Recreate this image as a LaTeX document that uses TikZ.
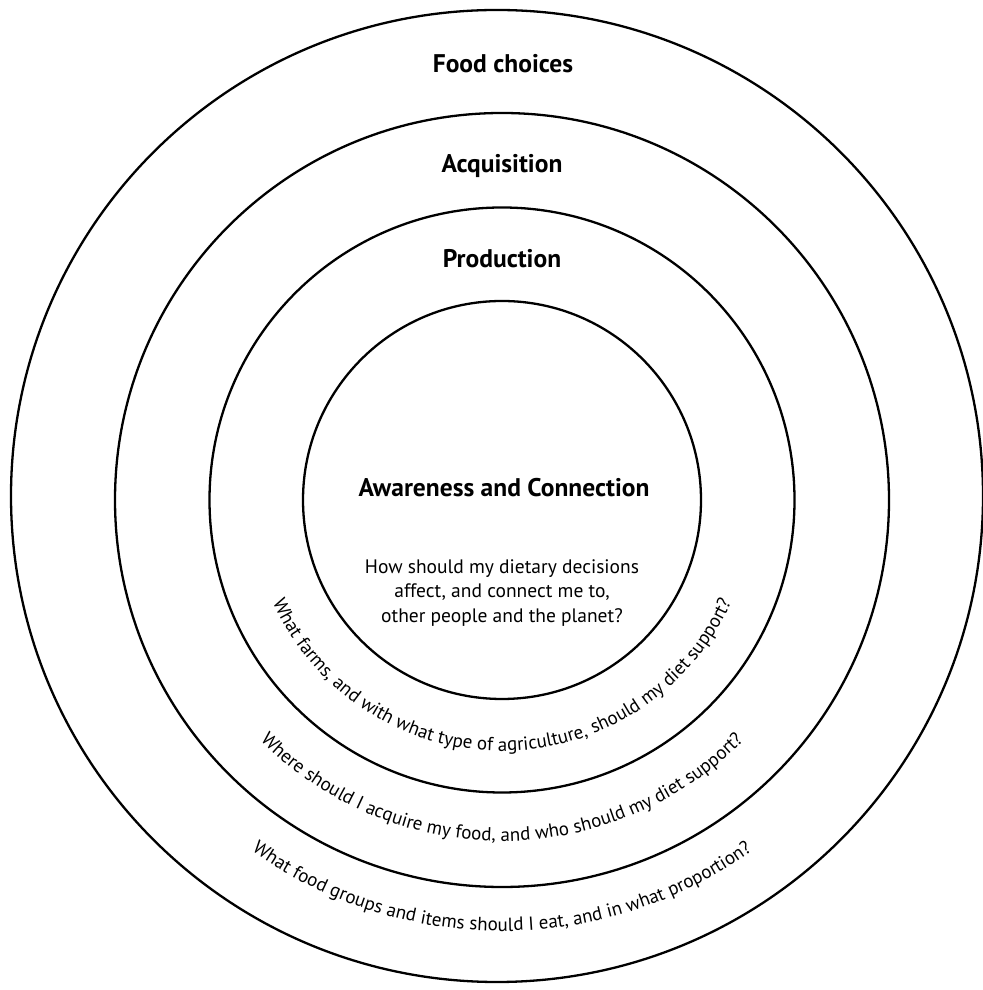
\documentclass[tikz,border=0pt]{standalone}
\usepackage{fontspec}
\setmainfont{PT Sans}
\usetikzlibrary{decorations.text}
\begin{document}
\begin{tikzpicture}[x=1pt,y=1pt,
  ring/.style={circle, draw=black, line width=2.3pt, inner sep=0pt, minimum size=#1},
  heading/.style={font=\fontsize{25.5}{30}\selectfont\bfseries, anchor=base, inner sep=0pt},
  body/.style={font=\fontsize{19.5}{24.5}\selectfont, align=center, inner sep=0pt},
  ringtext/.style={decorate, decoration={text along path, text align=center,
      text={|\fontsize{19}{23}\selectfont|#1}}}
]
\useasboundingbox (0,0) rectangle (982,990);

% centres of the rings
\coordinate (c) at (502,490);
\coordinate (co) at (497,494);

% four nested rings
\node[ring=972pt] (foodchoices) at (co) {};
\node[ring=774pt] (acquisition) at (c) {};
\node[ring=585pt] (production) at (c) {};
\node[ring=398pt] (awareness) at (c) {};

% ring titles
\node[heading] (t1) at (503,917) {Food choices};
\node[heading] (t2) at (502,817) {Acquisition};
\node[heading] (t3) at (502,722) {Production};
\node[heading] (t4) at (504,493) {Awareness and Connection};

% central question
\node[body] (q0) at (502,397) {How should my dietary decisions\\affect, and connect me to,\\other people and the planet?};

% questions set along the lower part of each ring
\path[ringtext={What farms, and with what type of agriculture, should my diet support?}]
  (c) ++(185:251) arc[start angle=185, end angle=355, radius=251];
\path[ringtext={Where should I acquire my food, and who should my diet support?}]
  (c) ++(200:341) arc[start angle=200, end angle=340, radius=341];
\path[ringtext={What food groups and items should I eat, and in what proportion?}]
  (c) ++(210:431) arc[start angle=210, end angle=330, radius=431];
\end{tikzpicture}
\end{document}
